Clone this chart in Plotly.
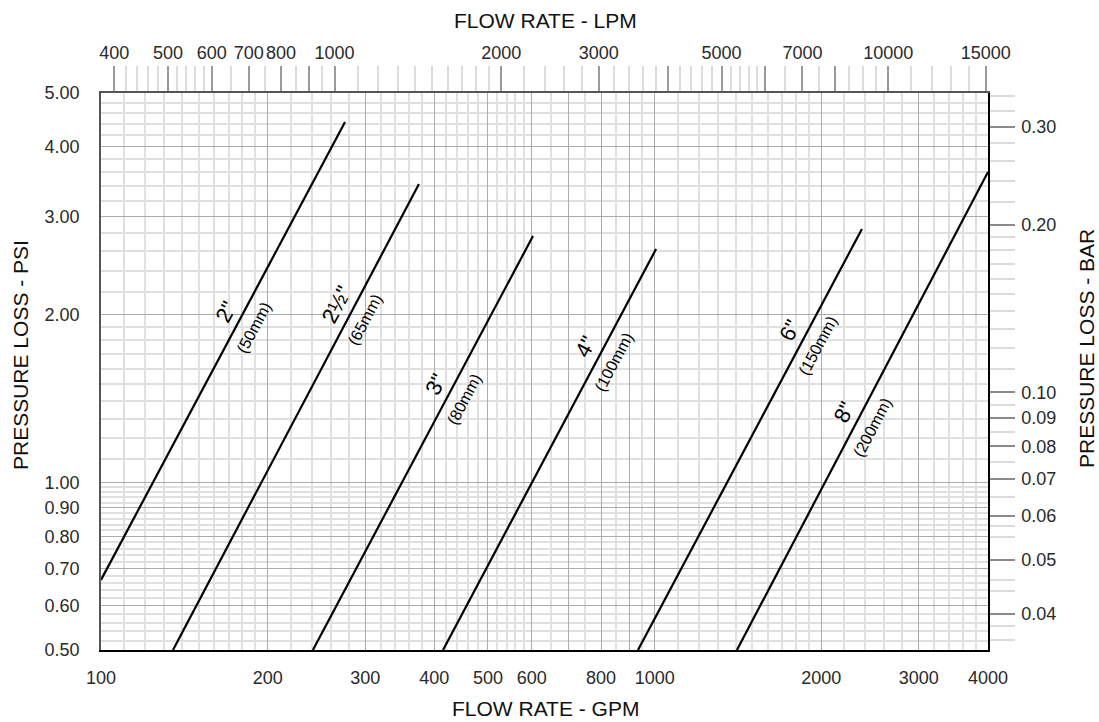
import math
import plotly.graph_objects as go

# ---------------- data ----------------
pipe_sizes = ['2"', '2½"', '3"', '4"', '6"', '8"']
pipe_metric = ['(50mm)', '(65mm)', '(80mm)', '(100mm)', '(150mm)', '(200mm)']
flow_start_gpm = [100, 134.9, 241.4, 414.7, 933, 1408]
flow_end_gpm = [275.9, 375.2, 603, 1006, 2368, 4000]
psi_start = [0.668, 0.5, 0.5, 0.5, 0.5, 0.5]
psi_end = [4.435, 3.433, 2.769, 2.624, 2.85, 3.607]
label_flow_gpm = [178, 283, 427, 797, 1860, 2329]

# bottom axis (GPM)
gpm_tick_vals = [100, 200, 300, 400, 500, 600, 700, 800, 900, 1000, 2000, 3000, 4000]
gpm_tick_text = ['100', '200', '300', '400', '500', '600', '', '800', '', '1000', '2000', '3000', '4000']
gpm_minor = [110, 120, 130, 140, 150, 160, 170, 180, 190,
             220, 240, 260, 280, 320, 340, 360, 380,
             420, 440, 460, 480, 520, 540, 560, 580,
             650, 750, 850, 950,
             1100, 1200, 1300, 1400, 1500, 1600, 1700, 1800, 1900,
             2200, 2400, 2600, 2800, 3200, 3400, 3600, 3800]

# top axis (LPM)
lpm_tick_vals = [400, 500, 600, 700, 800, 900, 1000, 2000, 3000, 4000, 5000, 6000, 7000, 8000, 10000, 15000]
lpm_tick_text = ['400', '500', '600', '700', '800', '', '1000', '2000', '3000', '', '5000', '', '7000', '', '10000', '15000']
lpm_minor = [420, 440, 460, 480, 520, 540, 560, 580, 650, 750, 850, 950,
             1100, 1200, 1300, 1400, 1500, 1600, 1700, 1800, 1900,
             2200, 2400, 2600, 2800, 3200, 3400, 3600, 3800,
             4200, 4400, 4600, 4800, 5200, 5400, 5600, 5800,
             6500, 7500, 8500, 9000, 9500, 11000, 12000, 13000, 14000]

# left axis (PSI)
psi_tick_vals = [0.5, 0.6, 0.7, 0.8, 0.9, 1.0, 2.0, 3.0, 4.0, 5.0]
psi_tick_text = ['0.50', '0.60', '0.70', '0.80', '0.90', '1.00', '2.00', '3.00', '4.00', '5.00']
psi_minor = [0.52, 0.54, 0.56, 0.58, 0.62, 0.64, 0.66, 0.68, 0.72, 0.74, 0.76, 0.78,
             0.82, 0.84, 0.86, 0.88, 0.92, 0.94, 0.96, 0.98,
             1.1, 1.2, 1.3, 1.4, 1.5, 1.6, 1.7, 1.8, 1.9,
             2.2, 2.4, 2.6, 2.8, 3.2, 3.4, 3.6, 3.8, 4.2, 4.4, 4.6, 4.8]

# right axis (BAR)
bar_tick_vals = [0.04, 0.05, 0.06, 0.07, 0.08, 0.09, 0.10, 0.20, 0.30]
bar_tick_text = ['0.04', '0.05', '0.06', '0.07', '0.08', '0.09', '0.10', '0.20', '0.30']
bar_minor = [0.036, 0.038, 0.044, 0.046, 0.055, 0.0575, 0.065, 0.075, 0.085, 0.095,
             0.11, 0.12, 0.13, 0.14, 0.15, 0.16, 0.17, 0.18, 0.19,
             0.22, 0.24, 0.26, 0.28, 0.32, 0.34]

GPM_TO_LPM = 3.78541
PSI_TO_BAR = 0.0689476
GPM_RANGE = [100, 4000]
PSI_RANGE = [0.5, 5.0]

# ---------------- layout geometry ----------------
W, H = 1099, 722
ML, MR, MT, MB = 101, 111, 93, 72
PW, PH = W - ML - MR, H - MT - MB

TICK_FONT = dict(family='Liberation Sans, Arial, sans-serif', size=18, color='#2a2a2a')
TITLE_FONT = dict(family='Liberation Sans, Arial, sans-serif', size=21, color='#111')
MAJOR_GRID = '#ababab'
MINOR_GRID = '#e0e0e0'

fig = go.Figure()

# pipe lines
for i in range(len(pipe_sizes)):
    fig.add_trace(go.Scatter(
        x=[flow_start_gpm[i], flow_end_gpm[i]],
        y=[psi_start[i], psi_end[i]],
        mode='lines', line=dict(color='black', width=2.2),
        hoverinfo='skip', showlegend=False))

# invisible trace to activate the secondary axes
fig.add_trace(go.Scatter(
    x=[GPM_RANGE[0] * GPM_TO_LPM], y=[PSI_RANGE[0] * PSI_TO_BAR],
    xaxis='x2', yaxis='y2', mode='markers', marker=dict(opacity=0),
    hoverinfo='skip', showlegend=False))

# labels along the lines
px_per_dec_x = PW / (math.log10(GPM_RANGE[1]) - math.log10(GPM_RANGE[0]))
px_per_dec_y = PH / (math.log10(PSI_RANGE[1]) - math.log10(PSI_RANGE[0]))
annotations = []
for i in range(len(pipe_sizes)):
    n = math.log10(psi_end[i] / psi_start[i]) / math.log10(flow_end_gpm[i] / flow_start_gpm[i])
    q = label_flow_gpm[i]
    p = psi_start[i] * (q / flow_start_gpm[i]) ** n
    ang = math.atan(n * px_per_dec_y / px_per_dec_x)
    deg = math.degrees(ang)
    nx, ny = -math.sin(ang), math.cos(ang)
    d1, d2 = 16, 16
    annotations.append(dict(x=math.log10(q), y=math.log10(p), xref='x', yref='y',
                            text=pipe_sizes[i], showarrow=False, textangle=-deg,
                            xshift=nx * d1, yshift=ny * d1,
                            font=dict(family='Liberation Sans, Arial, sans-serif', size=22, color='black')))
    annotations.append(dict(x=math.log10(q), y=math.log10(p), xref='x', yref='y',
                            text=pipe_metric[i], showarrow=False, textangle=-deg,
                            xshift=-nx * d2, yshift=-ny * d2,
                            font=dict(family='Liberation Sans, Arial, sans-serif', size=16, color='black')))

# axis titles
annotations += [
    dict(text='FLOW RATE - LPM', x=0.501, y=(PH + MT - 20) / PH, xref='paper', yref='paper',
         showarrow=False, font=TITLE_FONT, xanchor='center', yanchor='middle'),
    dict(text='FLOW RATE - GPM', x=0.501, y=(PH + MT - 708) / PH, xref='paper', yref='paper',
         showarrow=False, font=TITLE_FONT, xanchor='center', yanchor='middle'),
    dict(text='PRESSURE LOSS - PSI', x=(20 - ML) / PW, y=(PH + MT - 355) / PH, xref='paper', yref='paper',
         showarrow=False, font=TITLE_FONT, textangle=-90, xanchor='center', yanchor='middle'),
    dict(text='PRESSURE LOSS - BAR', x=(1086 - ML) / PW, y=(PH + MT - 349) / PH, xref='paper', yref='paper',
         showarrow=False, font=TITLE_FONT, textangle=-90, xanchor='center', yanchor='middle'),
]

fig.update_layout(
    width=W, height=H,
    margin=dict(l=ML, r=MR, t=MT, b=MB, autoexpand=False),
    paper_bgcolor='white', plot_bgcolor='white',
    showlegend=False,
    annotations=annotations,
    xaxis=dict(
        type='log', range=[math.log10(GPM_RANGE[0]), math.log10(GPM_RANGE[1])],
        tickmode='array', tickvals=gpm_tick_vals, ticktext=gpm_tick_text,
        ticks='', ticklabelstandoff=10, tickfont=TICK_FONT,
        showgrid=True, gridcolor=MAJOR_GRID, gridwidth=1.3,
        minor=dict(tickmode='array', tickvals=gpm_minor, showgrid=True,
                   gridcolor=MINOR_GRID, gridwidth=1.5, ticks=''),
        showline=True, linecolor='black', linewidth=2, zeroline=False,
        fixedrange=True,
    ),
    yaxis=dict(
        type='log', range=[math.log10(PSI_RANGE[0]), math.log10(PSI_RANGE[1])],
        tickmode='array', tickvals=psi_tick_vals, ticktext=psi_tick_text,
        ticks='', ticklabelstandoff=16, tickfont=TICK_FONT,
        showgrid=True, gridcolor=MAJOR_GRID, gridwidth=1.3,
        minor=dict(tickmode='array', tickvals=psi_minor, showgrid=True,
                   gridcolor=MINOR_GRID, gridwidth=1.5, ticks=''),
        showline=True, linecolor='#555', linewidth=1.5, zeroline=False,
        fixedrange=True,
    ),
    xaxis2=dict(
        type='log', overlaying='x', side='top', anchor='y',
        range=[math.log10(GPM_RANGE[0] * GPM_TO_LPM), math.log10(GPM_RANGE[1] * GPM_TO_LPM)],
        tickmode='array', tickvals=lpm_tick_vals, ticktext=lpm_tick_text,
        ticks='outside', ticklen=25, tickwidth=1.5, tickcolor='#9a9a9a',
        ticklabelstandoff=0, tickfont=TICK_FONT,
        showgrid=False,
        minor=dict(tickmode='array', tickvals=lpm_minor, ticks='outside', ticklen=25,
                   tickwidth=1.5, tickcolor='#dcdcdc', showgrid=False),
        showline=True, linecolor='#555', linewidth=1.5, zeroline=False,
        fixedrange=True,
    ),
    yaxis2=dict(
        type='log', overlaying='y', side='right', anchor='x',
        range=[math.log10(PSI_RANGE[0] * PSI_TO_BAR), math.log10(PSI_RANGE[1] * PSI_TO_BAR)],
        tickmode='array', tickvals=bar_tick_vals, ticktext=bar_tick_text,
        ticks='outside', ticklen=25, tickwidth=1.5, tickcolor='#8a8a8a',
        ticklabelstandoff=3, tickfont=TICK_FONT,
        showgrid=False,
        minor=dict(tickmode='array', tickvals=bar_minor, ticks='outside', ticklen=25,
                   tickwidth=1.5, tickcolor='#dcdcdc', showgrid=False),
        showline=True, linecolor='black', linewidth=1.5, zeroline=False,
        fixedrange=True,
    ),
)

fig.write_html('out.html', config={'displayModeBar': False},
               post_script="document.body.style.margin='0';document.body.style.overflow='hidden';")
